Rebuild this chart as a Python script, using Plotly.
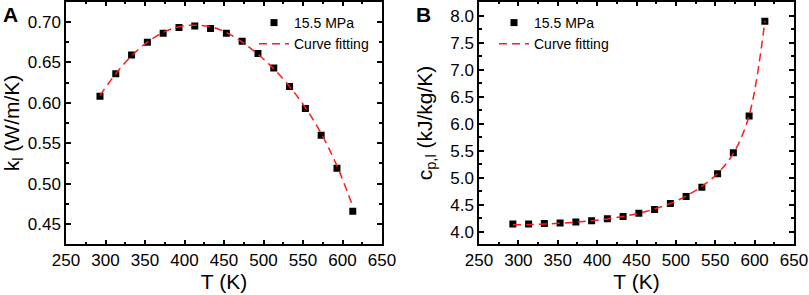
import plotly.graph_objects as go

# ---- data ----
T = [293, 313, 333, 353, 373, 393, 413, 433, 453, 473, 493, 513, 533, 553, 573, 593, 613]
k_data = [0.608, 0.636, 0.659, 0.675, 0.686, 0.693, 0.695, 0.692, 0.686, 0.676, 0.661, 0.643, 0.620, 0.593, 0.560, 0.519, 0.466]
k_fit = [0.609, 0.636, 0.658, 0.675, 0.687, 0.694, 0.696, 0.694, 0.687, 0.675, 0.660, 0.642, 0.620, 0.594, 0.562, 0.522, 0.472]
cp_data = [4.14, 4.14, 4.15, 4.16, 4.18, 4.20, 4.24, 4.28, 4.34, 4.41, 4.52, 4.65, 4.82, 5.07, 5.46, 6.14, 7.90]
cp_fit = [4.125, 4.13, 4.14, 4.155, 4.175, 4.20, 4.235, 4.28, 4.34, 4.42, 4.52, 4.66, 4.84, 5.08, 5.45, 6.15, 7.90]
x_ticks = [250, 300, 350, 400, 450, 500, 550, 600, 650]
k_ticks = [0.45, 0.50, 0.55, 0.60, 0.65, 0.70]
cp_ticks = [4.0, 4.5, 5.0, 5.5, 6.0, 6.5, 7.0, 7.5, 8.0]
series_label = "15.5 MPa"
fit_label = "Curve fitting"

W, H = 809, 295
FONT = "Liberation Sans, Arial, sans-serif"

fig = go.Figure()

fig.add_trace(go.Scatter(x=T, y=k_data, mode="markers", name=series_label,
                         marker=dict(symbol="square", size=7, color="black"),
                         xaxis="x", yaxis="y", legend="legend"))
fig.add_trace(go.Scatter(x=T, y=k_fit, mode="lines", name=fit_label, line_shape="spline",
                         line=dict(color="#ff1a1a", width=1.5, dash="8px,5px"),
                         xaxis="x", yaxis="y", legend="legend"))
fig.add_trace(go.Scatter(x=T, y=cp_data, mode="markers", name=series_label,
                         marker=dict(symbol="square", size=7, color="black"),
                         xaxis="x2", yaxis="y2", legend="legend2"))
fig.add_trace(go.Scatter(x=T, y=cp_fit, mode="lines", name=fit_label, line_shape="spline",
                         line=dict(color="#ff1a1a", width=1.5, dash="8px,5px"),
                         xaxis="x2", yaxis="y2", legend="legend2"))

def px_x(p):
    return p / W

def px_y(p):
    return 1 - p / H

axis_common = dict(showline=True, linecolor="black", linewidth=1.5, mirror="allticks",
                   ticks="inside", ticklen=5, tickwidth=1.5, tickcolor="black",
                   showgrid=False, zeroline=False, automargin=False,
                   tickfont=dict(family=FONT, size=17, color="black"))
TITLE_FONT = dict(family=FONT, size=21, color="black")
LEG_FONT = dict(family=FONT, size=14, color="black")

fig.update_layout(
    template="none",
    width=W, height=H, margin=dict(l=0, r=0, t=0, b=0, autoexpand=False),
    paper_bgcolor="white", plot_bgcolor="white",
    font=dict(family=FONT, color="black"),
    showlegend=True,
    xaxis=dict(domain=[px_x(66), px_x(382)], range=[250, 650], tickvals=x_ticks,
               minor=dict(ticks="inside", ticklen=3, tickwidth=1.5, tickcolor="black", dtick=25, tick0=250),
               title=dict(text="T (K)", font=TITLE_FONT, standoff=2),
               anchor="y", **axis_common),
    yaxis=dict(domain=[px_y(244.3), px_y(1.7)], range=[0.425, 0.725], tickvals=k_ticks, tickformat=".2f",
               minor=dict(ticks="inside", ticklen=3, tickwidth=1.5, tickcolor="black", dtick=0.025, tick0=0.45),
               title=dict(text="k<sub>l</sub> (W/m/K)", font=TITLE_FONT, standoff=4),
               anchor="x", **axis_common),
    xaxis2=dict(domain=[px_x(479), px_x(794)], range=[250, 650], tickvals=x_ticks,
                minor=dict(ticks="inside", ticklen=3, tickwidth=1.5, tickcolor="black", dtick=25, tick0=250),
                title=dict(text="T (K)", font=TITLE_FONT, standoff=2),
                anchor="y2", **axis_common),
    yaxis2=dict(domain=[px_y(244.3), px_y(1.7)], range=[3.765, 8.26], tickvals=cp_ticks, tickformat=".1f",
                minor=dict(ticks="inside", ticklen=3, tickwidth=1.5, tickcolor="black", dtick=0.25, tick0=4.0),
                title=dict(text="c<sub>p,l</sub> (kJ/kg/K)", font=TITLE_FONT, standoff=12),
                anchor="x2", **axis_common),
    legend=dict(x=px_x(254), y=px_y(7), xanchor="left", yanchor="top",
                bgcolor="rgba(0,0,0,0)", borderwidth=0, font=LEG_FONT,
                tracegroupgap=0, itemwidth=30),
    legend2=dict(x=px_x(494), y=px_y(7), xanchor="left", yanchor="top",
                 bgcolor="rgba(0,0,0,0)", borderwidth=0, font=LEG_FONT,
                 tracegroupgap=0, itemwidth=30),
    annotations=[
        dict(text="<b>A</b>", x=px_x(1), y=px_y(1), xref="paper", yref="paper",
             xanchor="left", yanchor="top", showarrow=False,
             font=dict(family=FONT, size=21, color="black")),
        dict(text="<b>B</b>", x=px_x(414), y=px_y(1), xref="paper", yref="paper",
             xanchor="left", yanchor="top", showarrow=False,
             font=dict(family=FONT, size=21, color="black")),
    ],
)

fig.write_html("out.html",
               config={"displayModeBar": False, "staticPlot": False},
               post_script="document.body.style.margin='0';document.body.style.padding='0';"
                           "document.documentElement.style.overflow='hidden';")
